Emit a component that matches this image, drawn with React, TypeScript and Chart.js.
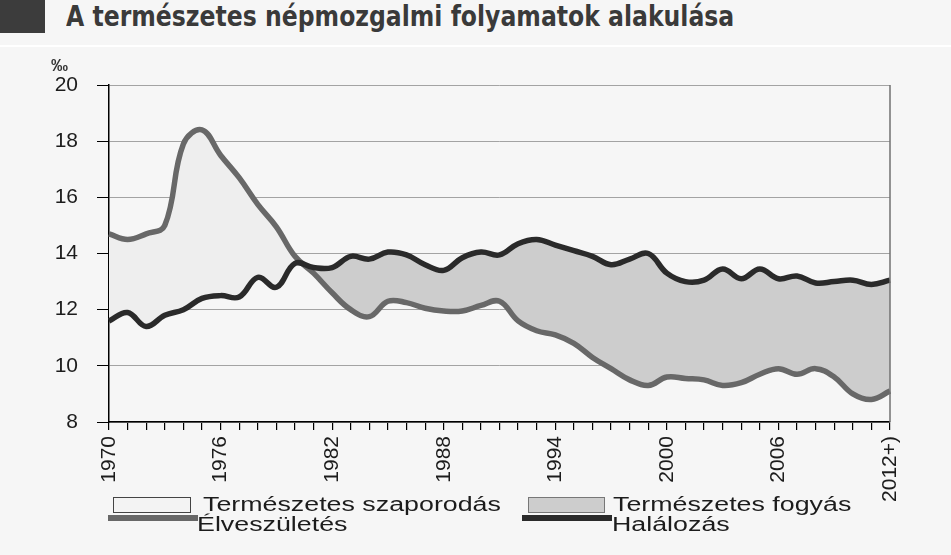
import React, { useEffect, useRef } from 'react';
import { Chart, registerables } from 'chart.js';

Chart.register(...registerables);

const YEARS = [
  '1970', '1971', '1972', '1973', '1974', '1975', '1976', '1977', '1978', '1979',
  '1980', '1981', '1982', '1983', '1984', '1985', '1986', '1987', '1988', '1989',
  '1990', '1991', '1992', '1993', '1994', '1995', '1996', '1997', '1998', '1999',
  '2000', '2001', '2002', '2003', '2004', '2005', '2006', '2007', '2008', '2009',
  '2010', '2011', '2012',
];

const LABELED_YEARS = ['1970', '1976', '1982', '1988', '1994', '2000', '2006'];
const LAST_LABEL = '2012+)';

// Élveszületés (‰)
const BIRTHS = [
  14.7, 14.5, 14.7, 15.0, 17.9, 18.4, 17.5, 16.7, 15.75, 14.95,
  13.9, 13.3, 12.6, 12.0, 11.75, 12.3, 12.25, 12.05, 11.95, 11.95,
  12.15, 12.3, 11.6, 11.25, 11.1, 10.8, 10.3, 9.9, 9.5, 9.3,
  9.6, 9.55, 9.5, 9.3, 9.4, 9.7, 9.9, 9.7, 9.9, 9.6,
  9.0, 8.8, 9.1,
];

// Halálozás (‰)
const DEATHS = [
  11.6, 11.9, 11.4, 11.8, 12.0, 12.4, 12.5, 12.45, 13.15, 12.8,
  13.65, 13.5, 13.5, 13.9, 13.8, 14.05, 13.95, 13.6, 13.4, 13.85,
  14.05, 13.95, 14.35, 14.5, 14.3, 14.1, 13.9, 13.6, 13.8, 14.0,
  13.3, 13.0, 13.05, 13.45, 13.1, 13.45, 13.1, 13.2, 12.95, 13.0,
  13.05, 12.9, 13.05,
];

const Y_MIN = 8;
const Y_MAX = 20;
const Y_STEP = 2;

const BG = '#f6f6f6';
const BIRTH_COLOR = '#686868';
const DEATH_COLOR = '#2a2a2a';
const SURPLUS_FILL = '#eeeeee';
const DEFICIT_FILL = '#cdcdcd';
const TEXT_COLOR = '#1c1c1c';

const rightBorder = {
  id: 'rightBorder',
  afterDraw(chart: any) {
    const { ctx, chartArea } = chart;
    ctx.save();
    ctx.strokeStyle = '#707070';
    ctx.lineWidth = 1.5;
    ctx.beginPath();
    ctx.moveTo(chartArea.right, chartArea.top);
    ctx.lineTo(chartArea.right, chartArea.bottom);
    ctx.stroke();
    ctx.restore();
  },
};

export default function App() {
  const canvasRef = useRef<HTMLCanvasElement | null>(null);

  useEffect(() => {
    if (!canvasRef.current) return;
    const chart = new Chart(canvasRef.current, {
      type: 'line',
      data: {
        labels: YEARS,
        datasets: [
          {
            label: 'Élveszületés',
            data: BIRTHS,
            borderColor: BIRTH_COLOR,
            borderWidth: 5.5,
            tension: 0.4,
            pointRadius: 0,
            order: 1,
            fill: { target: '+1', above: SURPLUS_FILL, below: DEFICIT_FILL },
          },
          {
            label: 'Halálozás',
            data: DEATHS,
            borderColor: DEATH_COLOR,
            borderWidth: 5.5,
            tension: 0.4,
            pointRadius: 0,
            order: 0,
            fill: false,
          },
        ],
      },
      options: {
        responsive: false,
        animation: false,
        events: [],
        layout: { padding: { left: 0, right: 61, top: 85, bottom: 0 } },
        plugins: {
          legend: { display: false },
          tooltip: { enabled: false },
        },
        scales: {
          x: {
            type: 'category',
            offset: false,
            grid: {
              drawOnChartArea: false,
              drawTicks: true,
              tickLength: 8,
              tickColor: '#000',
              lineWidth: 1.2,
            },
            border: { color: '#000', width: 1.5 },
            ticks: {
              autoSkip: false,
              maxRotation: 90,
              minRotation: 90,
              padding: 6,
              color: TEXT_COLOR,
              font: { family: 'Arial, "Liberation Sans"', size: 21 },
              callback: (_v: any, idx: number) => {
                if (idx === YEARS.length - 1) return LAST_LABEL;
                const y = YEARS[idx];
                return LABELED_YEARS.includes(y) ? y : '';
              },
            },
            afterFit: (s: any) => {
              s.height = 133;
            },
          },
          y: {
            min: Y_MIN,
            max: Y_MAX,
            ticks: {
              stepSize: Y_STEP,
              padding: 19,
              color: TEXT_COLOR,
              font: { family: 'Arial, "Liberation Sans"', size: 21 },
            },
            grid: {
              color: '#a3a3a3',
              tickColor: '#000',
              tickLength: 12,
              lineWidth: 1,
            },
            border: { color: '#000', width: 1.5 },
            afterFit: (s: any) => {
              s.width = 109;
            },
          },
        },
      },
      plugins: [rightBorder],
    } as any);
    return () => chart.destroy();
  }, []);

  const legendText: React.CSSProperties = {
    position: 'absolute',
    fontFamily: 'Arial, "Liberation Sans", sans-serif',
    fontSize: 20,
    lineHeight: '24px',
    color: TEXT_COLOR,
    whiteSpace: 'nowrap',
    transform: 'scaleX(1.34)',
    transformOrigin: 'left center',
  };

  return (
    <div
      style={{
        position: 'fixed',
        left: 0,
        top: 0,
        width: 951,
        height: 555,
        background: BG,
        overflow: 'hidden',
      }}
    >
      <div style={{ position: 'absolute', left: 0, top: 0, width: 45, height: 33, background: '#3c3c3c' }} />
      <div
        style={{
          position: 'absolute',
          left: 66,
          top: 1,
          fontFamily: '"DejaVu Sans Condensed", "DejaVu Sans", sans-serif',
          fontStretch: 'condensed',
          fontWeight: 'bold',
          fontSize: 28,
          lineHeight: '32px',
          color: '#3a3a3a',
          whiteSpace: 'nowrap',
          transform: 'scaleX(0.935)',
          transformOrigin: 'left center',
        }}
      >
        A természetes népmozgalmi folyamatok alakulása
      </div>
      <div style={{ position: 'absolute', left: 0, top: 45, width: 951, height: 2, background: '#ffffff' }} />
      <canvas
        ref={canvasRef}
        width={951}
        height={555}
        style={{ position: 'absolute', left: 0, top: 0, width: 951, height: 555 }}
      />
      <div
        style={{
          position: 'absolute',
          left: 51,
          top: 56,
          fontFamily: 'Arial, "Liberation Sans", sans-serif',
          fontSize: 17,
          fontWeight: 'bold',
          color: '#333',
        }}
      >
        ‰
      </div>
      {/* legend row 1 */}
      <div style={{ position: 'absolute', left: 113, top: 497, width: 76, height: 14, background: '#f3f3f3', border: '1px solid #444' }} />
      <div style={{ ...legendText, left: 203, top: 492 }}>Természetes szaporodás</div>
      <div style={{ position: 'absolute', left: 528, top: 497, width: 75, height: 14, background: DEFICIT_FILL, border: '1px solid #777' }} />
      <div style={{ ...legendText, left: 613, top: 492 }}>Természetes fogyás</div>
      {/* legend row 2 */}
      <div style={{ position: 'absolute', left: 108, top: 515, width: 90, height: 6, background: BIRTH_COLOR }} />
      <div style={{ ...legendText, left: 197, top: 512 }}>Élveszületés</div>
      <div style={{ position: 'absolute', left: 522, top: 515, width: 90, height: 6, background: DEATH_COLOR }} />
      <div style={{ ...legendText, left: 612, top: 512 }}>Halálozás</div>
    </div>
  );
}
